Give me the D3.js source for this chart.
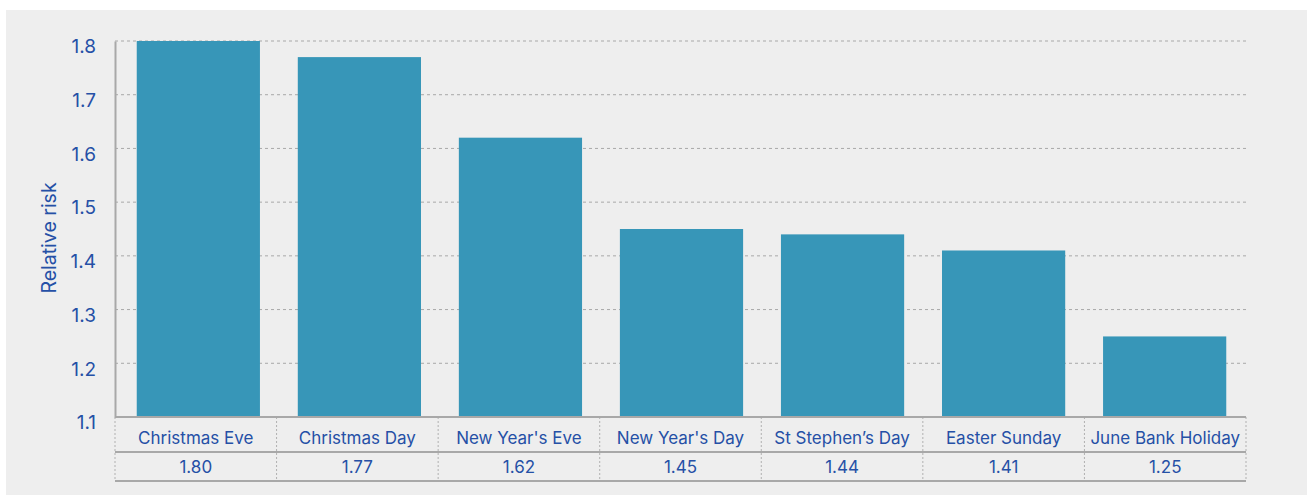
<!DOCTYPE html>
<html>
<head>
<meta charset="utf-8">
<script src="https://cdn.jsdelivr.net/npm/d3@7"></script>
<style>
  html, body { margin: 0; padding: 0; background: #ffffff; }
  svg { display: block; }
  text { font-family: Inter, "Noto Sans", sans-serif; fill: #2550a6; }
</style>
</head>
<body>
<svg id="chart" width="1307" height="495"></svg>
<script>
// Relative risk by holiday
const holidays = ["Christmas Eve", "Christmas Day", "New Year's Eve", "New Year's Day", "St Stephen\u2019s Day", "Easter Sunday", "June Bank Holiday"];
const riskValues = [1.80, 1.77, 1.62, 1.45, 1.44, 1.41, 1.25];
const yTicks = [1.1, 1.2, 1.3, 1.4, 1.5, 1.6, 1.7, 1.8];

const svg = d3.select("#chart");
const W = 1307, H = 495;

const plot = { left: 115, right: 1246, top: 41, bottom: 417 };
const rowLabelBottom = 452, rowValueBottom = 481;

// panel background
svg.append("rect").attr("x", 6).attr("y", 10).attr("width", W - 6).attr("height", H - 10).attr("fill", "#eeeeee");

const x = d3.scaleBand().domain(holidays).range([plot.left, plot.right + 2]).paddingInner(0.235).paddingOuter(0.135);
const y = d3.scaleLinear().domain([1.1, 1.8]).range([plot.bottom, plot.top]);

// dashed gridlines
svg.append("g").selectAll("line").data(yTicks.filter(t => t > 1.1)).join("line")
  .attr("x1", plot.left).attr("x2", plot.right)
  .attr("y1", d => y(d)).attr("y2", d => y(d))
  .attr("stroke", "#a8a8a8").attr("stroke-width", 1).attr("stroke-dasharray", "3,3");

// bars
svg.append("g").selectAll("rect").data(riskValues).join("rect")
  .attr("x", (d, i) => x(holidays[i]))
  .attr("width", x.bandwidth())
  .attr("y", d => y(d))
  .attr("height", d => y(1.1) - y(d))
  .attr("fill", "#3796b8");

// y axis
const yAxis = d3.axisLeft(y).tickValues(yTicks).tickFormat(d3.format(".1f")).tickSize(0).tickPadding(19);
const gy = svg.append("g").attr("transform", `translate(${plot.left},0)`).call(yAxis);
gy.attr("font-family", null).attr("font-size", null);
gy.select(".domain").attr("stroke", "#a8a8a8").attr("stroke-width", 2);
gy.selectAll("text").attr("font-size", 19).attr("dy", "0.62em").style("fill", "#2550a6");

svg.append("text")
  .attr("transform", `translate(56,238) rotate(-90)`)
  .attr("text-anchor", "middle")
  .attr("font-size", 19.5)
  .text("Relative risk");

// table under the bars
const bounds = holidays.map((h, i) => plot.left + i * (plot.right - plot.left) / holidays.length);
bounds.push(plot.right);
const table = svg.append("g");
table.selectAll("line.v").data(bounds).join("line")
  .attr("class", "v")
  .attr("x1", d => d).attr("x2", d => d)
  .attr("y1", plot.bottom).attr("y2", rowValueBottom)
  .attr("stroke", "#b0b0b0").attr("stroke-width", 1).attr("stroke-dasharray", "2,2");
table.selectAll("line.h").data([plot.bottom, rowLabelBottom, rowValueBottom]).join("line")
  .attr("class", "h")
  .attr("x1", plot.left).attr("x2", plot.right)
  .attr("y1", d => d).attr("y2", d => d)
  .attr("stroke", "#a8a8a8").attr("stroke-width", 2);

const centre = i => bounds[i] + (bounds[i + 1] - bounds[i]) / 2;

table.selectAll("text.cat").data(holidays).join("text")
  .attr("class", "cat")
  .attr("x", (d, i) => centre(i))
  .attr("y", 438)
  .attr("dy", "0.35em")
  .attr("text-anchor", "middle")
  .attr("font-size", 17)
  .text(d => d);

table.selectAll("text.val").data(riskValues).join("text")
  .attr("class", "val")
  .attr("x", (d, i) => centre(i))
  .attr("y", 467)
  .attr("dy", "0.35em")
  .attr("text-anchor", "middle")
  .attr("font-size", 17)
  .text(d => d3.format(".2f")(d));
</script>
</body>
</html>
